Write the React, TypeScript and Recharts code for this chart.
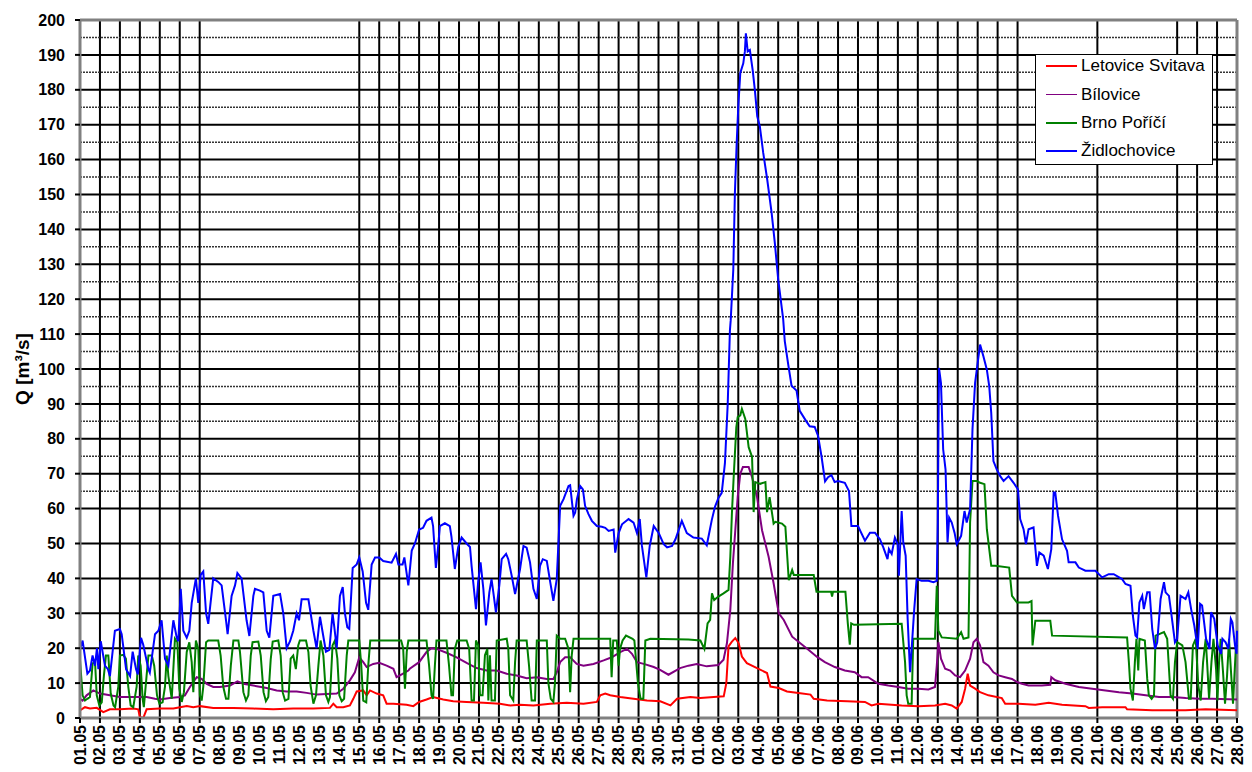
import React from 'react';
import { LineChart, Line, XAxis, YAxis, CartesianGrid, ReferenceLine, Legend } from 'recharts';

const FONT = '"Liberation Sans", Arial, sans-serif';

// date labels, one per day (x value = day index from 01.05)
const dayLabels = [
	'01.05', '02.05', '03.05', '04.05', '05.05', '06.05', '07.05', '08.05', '09.05', '10.05',
	'11.05', '12.05', '13.05', '14.05', '15.05', '16.05', '17.05', '18.05', '19.05', '20.05',
	'21.05', '22.05', '23.05', '24.05', '25.05', '26.05', '27.05', '28.05', '29.05', '30.05',
	'31.05', '01.06', '02.06', '03.06', '04.06', '05.06', '06.06', '07.06', '08.06', '09.06',
	'10.06', '11.06', '12.06', '13.06', '14.06', '15.06', '16.06', '17.06', '18.06', '19.06',
	'20.06', '21.06', '22.06', '23.06', '24.06', '25.06', '26.06', '27.06', '28.06',
];
const dayTicks = dayLabels.map((_l, i) => i);
const X_MAX = 58;
const Y_MAX = 200;
// days that carry a vertical grid line in the original
const gridDays = [
	0, 1, 2, 3, 4, 5, 6, 14, 15, 16, 17, 18, 19, 20, 21, 22, 23, 24, 25, 26, 27, 28, 29, 30,
	31, 32, 33, 34, 35, 36, 37, 38, 39, 40, 41, 42, 43, 44, 45, 46, 47, 51, 55, 56, 57,
];
const yTicks = [0, 10, 20, 30, 40, 50, 60, 70, 80, 90, 100, 110, 120, 130, 140, 150, 160, 170, 180, 190, 200];
const yMinor = [65, 75, 85, 95, 105, 115, 125, 135, 145, 155, 165, 175, 185, 195];

// Letovice Svitava
const letoviceT = [0, 0.25, 0.5, 0.84, 1.17, 1.5, 2, 2.67, 2.92, 3, 3.17, 3.34, 4, 4.68, 5.01, 5.35, 5.68, 6.02, 6.68, 7.69, 8.69, 9.69, 10.69, 11.7, 12.53, 12.7, 12.87, 13.2, 13.53, 13.7, 13.87, 14.2, 14.37, 14.54, 14.87, 15.2, 15.37, 15.71, 16.37, 16.71, 17, 17.37, 17.7, 18.21, 18.71, 19.38, 20.22, 21.05, 21.56, 22.06, 22.73, 23.57, 24.4, 25.24, 25.91, 26.08, 26.33, 26.58, 27.08, 27.75, 28.42, 29.09, 29.6, 29.93, 30.6, 31.1, 31.77, 32.27, 32.4, 32.51, 32.68, 32.85, 33.02, 33.18, 33.43, 33.94, 34.44, 34.61, 35.03, 35.44, 36.11, 36.62, 36.78, 37.45, 38.46, 39.35, 39.68, 40.02, 41.19, 42.03, 42.86, 43.37, 43.7, 43.95, 44.2, 44.37, 44.5, 44.62, 44.87, 45.12, 45.54, 46.21, 46.38, 47.05, 47.89, 48.56, 49.23, 50.4, 50.57, 51.24, 52.41, 52.49, 53.75, 55.42, 56.43, 58];
const letoviceQ = [2.2, 3.1, 2.7, 2.9, 1.7, 2.5, 2.5, 2.7, 2.5, 0.3, 0, 2.5, 2.7, 2.7, 3.1, 3.4, 3.1, 3.4, 2.9, 2.9, 2.7, 2.5, 2.7, 2.7, 2.9, 4.1, 3.1, 3.1, 3.6, 5.5, 7.6, 7.9, 6.5, 7.9, 7, 6.5, 4.1, 4.1, 3.8, 3.4, 4.6, 5.3, 6, 5.3, 4.8, 4.6, 4.4, 4.1, 3.6, 3.8, 3.6, 4.1, 4.4, 4.1, 4.6, 6.5, 7, 6.5, 6, 5.5, 5, 4.8, 3.6, 5.5, 6, 5.7, 6, 6.2, 10, 20.5, 21.9, 22.9, 21.4, 17.6, 15.7, 14.3, 12.9, 9, 8.6, 7.6, 7.1, 6.7, 5.5, 5, 4.8, 4.6, 3.6, 4.1, 3.6, 3.4, 3.6, 4.1, 3.6, 2.7, 4.6, 8.4, 12.7, 9.3, 8.4, 7.4, 6.5, 5.7, 4.1, 4.1, 3.8, 4.4, 3.8, 3.4, 2.9, 3.1, 3.1, 2.5, 2.2, 2.2, 2.5, 2.2];

// Bílovice
const bilowiceT = [0, 0.13, 0.33, 0.67, 1, 1.5, 2, 2.67, 3.34, 3.76, 4, 4.51, 5.01, 5.26, 5.51, 5.85, 6.1, 6.35, 6.68, 7.02, 7.52, 7.89, 8.19, 8.86, 9.36, 9.86, 10.36, 10.86, 11.36, 11.86, 12.36, 12.87, 13.2, 13.53, 13.78, 14, 14.2, 14.37, 14.7, 15, 15.37, 15.71, 15.87, 16.04, 16.46, 16.53, 17, 17.37, 17.62, 17.87, 18.37, 18.88, 19.38, 19.88, 20.38, 20.89, 21.39, 21.89, 22.39, 22.9, 23.4, 23.73, 23.9, 24.07, 24.32, 24.57, 24.9, 25.24, 25.74, 26.25, 26.66, 27.08, 27.42, 27.67, 27.92, 28.26, 28.76, 29.08, 29.5, 30.08, 30.5, 30.92, 31.42, 32, 32.26, 32.43, 32.6, 32.73, 32.85, 32.97, 33.1, 33.23, 33.52, 33.69, 33.94, 34.19, 34.52, 34.77, 35.03, 35.28, 35.7, 36.11, 36.53, 36.95, 37.34, 37.84, 38.34, 38.84, 39.18, 39.51, 40.02, 40.52, 41.02, 41.52, 42.03, 42.53, 42.86, 42.95, 43.03, 43.16, 43.37, 43.62, 43.87, 44.12, 44.37, 44.62, 44.79, 44.96, 45.12, 45.29, 45.54, 45.79, 46.05, 46.38, 46.72, 46.97, 47.22, 47.55, 48.22, 48.64, 48.69, 48.89, 49.4, 50.07, 50.74, 51.41, 52.08, 52.75, 53.42, 54.09, 54.76, 55.43, 56.1, 56.77, 58];
const bilowiceQ = [5.5, 5, 6.5, 7.9, 7, 6.5, 6, 6, 6, 5.5, 5.3, 5.7, 6, 6.5, 8.9, 11.7, 11.2, 9.8, 8.9, 8.9, 9.3, 10.5, 9.8, 9.1, 8.6, 7.9, 7.6, 7.6, 7.2, 6.7, 6.9, 7, 8.4, 10.8, 13.1, 17.4, 16, 14.6, 15.5, 15.8, 15, 14.1, 11.7, 12.2, 13.6, 14.1, 16, 18.9, 20, 19.8, 18.7, 17.4, 15.8, 14.3, 13.6, 13.6, 12.7, 12.2, 11.4, 11.7, 11.2, 11.2, 13.1, 16, 17.4, 17.4, 15.5, 15, 15.5, 16.5, 17.4, 18.9, 19.8, 18.4, 16, 15.5, 14.6, 13.8, 12.4, 14.3, 15, 15.5, 14.8, 15.2, 16.7, 21.4, 31, 44.3, 53.8, 63.3, 70, 71.9, 71.9, 69, 63.3, 53.8, 46.2, 38.6, 30, 28.1, 23.3, 21.4, 19.5, 17.5, 16, 14.6, 13.6, 13.1, 11.7, 11.7, 9.8, 9.3, 8.9, 8.4, 8.4, 8.2, 8.9, 15, 21.7, 17, 14.1, 13.6, 12.2, 11.7, 13.6, 17, 21.7, 22.7, 20.8, 16, 15, 13.1, 12.2, 11.7, 11.2, 10.3, 9.8, 9.3, 9.3, 9.5, 11.7, 10.8, 9.8, 8.9, 8.4, 7.9, 7.4, 7, 6.5, 6, 6, 5.7, 5.5, 5.5, 5.3];

// Brno Poříčí
const brnoT = [0, 0.13, 0.25, 0.37, 0.5, 0.63, 0.75, 0.84, 0.97, 1.09, 1.2, 1.3, 1.42, 1.54, 1.68, 1.76, 1.92, 2, 2.17, 2.3, 2.42, 2.54, 2.67, 2.84, 2.92, 3.04, 3.14, 3.2, 3.34, 3.43, 3.6, 3.72, 3.86, 3.98, 4.14, 4.26, 4.35, 4.43, 4.6, 4.76, 4.88, 4.98, 5.1, 5.21, 5.35, 5.48, 5.6, 5.68, 5.81, 5.93, 6.01, 6.1, 6.18, 6.32, 6.43, 6.68, 6.93, 7.05, 7.18, 7.32, 7.44, 7.56, 7.69, 7.94, 8.02, 8.19, 8.32, 8.44, 8.56, 8.65, 8.94, 9.06, 9.2, 9.32, 9.44, 9.56, 9.66, 9.94, 10.06, 10.16, 10.28, 10.45, 10.56, 10.69, 10.82, 10.94, 11.02, 11.33, 11.45, 11.56, 11.7, 11.83, 11.95, 12.06, 12.2, 12.33, 12.45, 12.53, 12.66, 12.78, 12.9, 13, 13.12, 13.24, 13.37, 13.45, 14, 14.1, 14.2, 14.35, 14.45, 14.55, 16.1, 16.2, 16.29, 16.38, 16.46, 17.37, 17.5, 17.62, 17.7, 17.79, 17.87, 18.37, 18.5, 18.62, 18.7, 18.79, 18.91, 19.38, 19.51, 19.63, 19.75, 19.85, 19.96, 20.05, 20.18, 20.3, 20.42, 20.47, 20.55, 20.63, 20.8, 20.89, 21.39, 21.47, 21.56, 21.72, 21.81, 21.89, 22.39, 22.51, 22.64, 22.81, 22.9, 23.4, 23.48, 23.6, 23.73, 23.81, 23.9, 24.07, 24.32, 24.49, 24.57, 24.65, 24.74, 26.58, 26.65, 26.73, 26.91, 27, 27.07, 27.2, 27.37, 27.7, 27.79, 27.97, 28.1, 28.24, 28.34, 28.59, 30.5, 31.1, 31.3, 31.46, 31.59, 31.68, 31.79, 32, 32.26, 32.51, 32.6, 32.68, 32.76, 32.9, 32.97, 33.1, 33.18, 33.35, 33.52, 33.69, 33.77, 33.85, 34.1, 34.36, 34.44, 34.57, 34.77, 34.86, 35.19, 35.36, 35.53, 35.7, 35.78, 36.78, 36.92, 37.12, 37.65, 37.7, 37.75, 38.37, 38.49, 38.59, 38.66, 38.8, 41.19, 41.36, 41.44, 41.52, 41.69, 41.77, 42.86, 42.95, 43.03, 43.2, 43.95, 44.17, 44.29, 44.54, 44.62, 44.74, 44.96, 45.12, 45.34, 45.46, 45.58, 45.68, 45.88, 46.58, 46.72, 46.97, 47.55, 47.7, 47.75, 47.89, 48.64, 48.73, 52.49, 52.58, 52.66, 52.78, 52.88, 52.96, 53.05, 53.11, 53.38, 53.5, 53.58, 53.72, 53.84, 53.92, 54.34, 54.5, 54.59, 54.67, 54.79, 54.89, 55, 55.26, 55.42, 55.59, 55.68, 55.79, 55.93, 56.06, 56.18, 56.3, 56.43, 56.51, 56.6, 56.72, 56.82, 56.95, 57.02, 57.1, 57.18, 57.3, 57.4, 57.5, 57.6, 57.69, 57.8, 57.94, 58];
const brnoQ = [16.5, 6.5, 5, 5.5, 6, 15.5, 16.5, 6.5, 3.6, 4.5, 12.2, 17.9, 17.9, 7, 3.6, 3.1, 9, 17.9, 18.1, 17, 9, 3.6, 3.1, 9, 17.9, 15, 5.5, 3.1, 12.2, 17.9, 17.9, 15, 6.5, 4.1, 4.5, 9, 17.9, 12, 5.5, 22.7, 21.7, 8.4, 4.6, 7.4, 18.9, 21.7, 16, 7.4, 22.2, 19.8, 6.5, 5, 9, 21.7, 22.2, 22.2, 22.2, 17.9, 9, 5.5, 5.5, 15, 22.2, 22.2, 18.9, 7.4, 5, 6.5, 17.9, 21.7, 21.9, 17.9, 7.4, 4.8, 6, 16.8, 21.9, 22.2, 17.9, 7.4, 5, 5.5, 17, 17.9, 14, 20.8, 22.2, 22.2, 18.9, 9.3, 4.1, 6.5, 15, 22.2, 17.9, 6.5, 4.6, 6, 20.8, 22.2, 17, 6.5, 4.8, 5.5, 17.9, 22.2, 22.2, 15, 5, 4.5, 15, 22.2, 22.2, 20, 8.4, 19, 22.2, 22.2, 15, 6.5, 5.5, 15, 22.2, 22.2, 15, 6.5, 6.5, 19.8, 22.2, 22.2, 19.8, 5, 5, 22.2, 20.8, 6.5, 6.5, 18, 19.8, 5, 18, 5, 5, 22.2, 22.7, 19.8, 6.5, 5, 16, 22.2, 22.2, 15, 5, 5, 22.2, 22.2, 10, 5.5, 4.6, 10, 23.6, 22.7, 22.7, 19.8, 7.4, 17.9, 22.7, 22.7, 11.7, 22.2, 22.2, 15, 19.8, 22.2, 23.6, 22.7, 22.2, 10, 5.5, 5.5, 22.2, 22.7, 22.5, 22.2, 19.8, 27.1, 28.1, 35.7, 33.8, 34.8, 35.7, 36.7, 46.2, 58.6, 68.1, 83.3, 86.2, 86.7, 88.6, 85.7, 77.6, 74.8, 59, 67.6, 67.1, 67.6, 59, 63.3, 55.7, 56.2, 55.7, 54.8, 39.5, 42.4, 41, 41, 36.2, 36.2, 36.2, 34.8, 36.2, 36.2, 27.1, 21, 27.1, 26.7, 27, 16, 6.5, 4.1, 4.1, 22.7, 22.7, 37.9, 25, 23.1, 22.7, 24.6, 22.7, 23.1, 56, 67.9, 67.9, 67.4, 67, 54.1, 48.4, 43.6, 43.6, 43.1, 35, 33.1, 33.1, 33.5, 20.8, 27.9, 27.9, 23.6, 23.1, 16, 8.4, 5, 16, 22.7, 13.6, 22.7, 22.2, 11.2, 6.5, 5.5, 6.5, 23.6, 24.6, 22.7, 14.1, 6.5, 5.5, 16, 21.7, 20.8, 16, 5.5, 5.5, 20.8, 22.7, 9.3, 5, 16, 22.7, 15, 5.5, 16, 22.7, 14.1, 5, 16, 22.7, 13.1, 4.1, 12, 22.7, 14.1, 4.1, 19.8, 21];

// Židlochovice
const zidlochT = [0, 0.13, 0.37, 0.5, 0.63, 0.75, 0.85, 0.92, 1.04, 1.25, 1.4, 1.5, 1.75, 2, 2.09, 2.31, 2.51, 2.64, 2.81, 2.9, 3.06, 3.17, 3.43, 3.5, 3.76, 3.93, 4.09, 4.26, 4.43, 4.68, 4.85, 4.93, 5.05, 5.18, 5.35, 5.48, 5.6, 5.81, 5.93, 6.05, 6.18, 6.32, 6.43, 6.68, 6.93, 7.1, 7.32, 7.4, 7.6, 7.77, 7.89, 8.1, 8.35, 8.49, 8.69, 8.77, 9.02, 9.19, 9.36, 9.49, 9.69, 10.03, 10.19, 10.36, 10.53, 10.69, 10.86, 10.98, 11.11, 11.45, 11.7, 11.86, 12.03, 12.15, 12.33, 12.5, 12.66, 12.75, 12.87, 13.03, 13.17, 13.28, 13.4, 13.5, 13.67, 13.87, 14, 14.17, 14.34, 14.45, 14.62, 14.79, 15, 15.2, 15.62, 15.84, 15.96, 16.17, 16.26, 16.46, 16.63, 16.79, 17, 17.2, 17.37, 17.62, 17.7, 17.84, 17.95, 18.04, 18.29, 18.54, 18.62, 18.79, 18.96, 19.13, 19.38, 19.55, 19.63, 19.85, 19.96, 20.08, 20.22, 20.35, 20.52, 20.63, 20.72, 20.85, 21.02, 21.14, 21.36, 21.47, 21.64, 21.81, 22.06, 22.23, 22.39, 22.56, 22.73, 22.9, 23.06, 23.2, 23.4, 23.57, 23.73, 23.9, 24.07, 24.24, 24.49, 24.57, 24.74, 24.82, 24.91, 25.07, 25.21, 25.32, 25.49, 25.66, 25.91, 26.16, 26.33, 26.5, 26.75, 26.83, 27, 27.17, 27.5, 27.75, 27.92, 28.06, 28.17, 28.39, 28.56, 28.76, 29.01, 29.26, 29.43, 29.68, 29.85, 30.17, 30.42, 30.75, 31.17, 31.42, 31.67, 31.83, 32, 32.17, 32.33, 32.47, 32.58, 32.62, 32.75, 32.83, 32.92, 33, 33.1, 33.25, 33.33, 33.38, 33.47, 33.58, 33.72, 33.83, 33.95, 34.08, 34.25, 34.45, 34.67, 34.83, 35, 35.25, 35.33, 35.5, 35.67, 35.92, 36.08, 36.41, 36.58, 36.83, 37, 37.17, 37.35, 37.5, 37.67, 37.83, 38, 38.34, 38.55, 38.67, 39, 39.35, 39.6, 39.85, 40.1, 40.27, 40.48, 40.55, 40.69, 40.85, 40.99, 41.05, 41.19, 41.27, 41.39, 41.49, 41.61, 41.69, 41.82, 41.94, 42.19, 42.53, 42.78, 42.95, 43, 43.06, 43.16, 43.27, 43.39, 43.49, 43.57, 43.7, 43.84, 43.95, 44.17, 44.34, 44.45, 44.62, 44.74, 44.87, 45.01, 45.12, 45.29, 45.46, 45.58, 45.68, 45.79, 45.96, 46.13, 46.3, 46.55, 46.8, 47.02, 47.13, 47.3, 47.42, 47.55, 47.8, 47.97, 48.09, 48.31, 48.52, 48.69, 48.81, 48.89, 49.03, 49.23, 49.48, 49.56, 49.9, 50.07, 50.4, 50.9, 51.24, 51.57, 51.82, 52.24, 52.41, 52.66, 52.78, 52.91, 52.99, 53.11, 53.25, 53.33, 53.5, 53.62, 53.75, 53.89, 54, 54.17, 54.34, 54.42, 54.59, 54.72, 54.89, 55, 55.17, 55.42, 55.56, 55.7, 55.86, 56.03, 56.15, 56.25, 56.45, 56.62, 56.7, 56.86, 57.03, 57.2, 57.27, 57.43, 57.57, 57.69, 57.77, 57.9, 57.98, 58];
const zidlochQ = [19.8, 22.2, 12.7, 13.6, 17.9, 15, 20, 14, 22, 15, 14, 12, 25, 25.5, 24, 14, 12, 19, 14, 12.5, 23, 21, 14, 13, 24, 25, 28, 17, 15, 28, 23, 22, 37, 25, 23, 25, 33, 40, 33, 41, 42, 30, 27, 40, 39, 38, 28, 24, 35, 38, 41.5, 40, 28, 23.5, 35, 37, 36.5, 36, 25, 23, 35, 35.5, 30, 20, 22, 25, 30, 28, 34, 34, 25, 20, 29, 25, 19, 19.5, 30, 26, 20, 35, 37.5, 30, 26, 25.5, 43, 44, 46, 42, 33, 31, 44, 46, 46, 45, 44.5, 47, 44, 44, 46, 38, 48, 50, 54, 54.5, 56.5, 57.4, 55, 43, 49, 55, 55.8, 55, 52, 42.7, 49, 51.7, 50, 49, 43.6, 31.2, 39, 44.6, 37, 26.5, 36, 39.8, 36, 30.3, 38, 45.5, 47, 45.5, 40.8, 35.5, 42.7, 49.3, 48.8, 44.6, 37, 34.1, 43.6, 45.5, 45, 39, 33.6, 39.8, 60.8, 62.7, 66.5, 66.7, 57.9, 58.8, 62.7, 66.5, 65.5, 60.8, 58.4, 56.5, 55, 54.8, 54.5, 53.6, 54, 47.4, 53, 55.5, 57, 56, 53, 57, 49.3, 40.3, 49.3, 55, 53, 49.8, 48.9, 49.3, 51.2, 56.5, 53, 51.7, 51.4, 49.5, 56.7, 60.5, 63, 64.5, 73, 90, 111, 114, 128.6, 150.5, 164.8, 175.2, 184.8, 187.6, 191, 196.2, 191, 191.4, 185.7, 180, 172.4, 169.5, 161.9, 154.3, 144.8, 136.2, 125.7, 114.3, 108, 101.4, 95.2, 93.8, 88, 85, 83.6, 83.4, 80.8, 75, 67.8, 69, 69.6, 67.6, 67.9, 67.4, 65, 55, 55, 50.8, 53.1, 53.1, 51.2, 48.9, 45.5, 48.4, 47, 51.7, 49.8, 40.8, 59.3, 50.3, 46.5, 28.4, 13.1, 19.8, 31.2, 39.8, 39.3, 39.3, 38.9, 39.3, 56, 100.3, 96, 77, 71.2, 50.3, 57.4, 56, 53.1, 49.8, 52.2, 59.3, 56, 59.8, 82.7, 96, 102.2, 107, 103.6, 99.8, 95, 87.4, 73.6, 71.2, 69.3, 67.9, 69.3, 67.4, 65.5, 57, 54.1, 49.8, 54.1, 54.6, 43.6, 47.4, 46.5, 42.7, 48.4, 64.6, 64.6, 57.9, 51.2, 47.9, 44.6, 44.6, 43.1, 42.2, 42.2, 40.3, 41.2, 41.2, 39.8, 38.4, 37.9, 29.3, 23.6, 23.1, 33.1, 35, 31.2, 36, 36, 25.5, 19.8, 21.7, 34.1, 38.9, 36, 35, 29.3, 21.7, 22.7, 35, 34.1, 36, 31.2, 26.5, 19.8, 32.7, 32.2, 22.7, 19.8, 30.3, 28.4, 20.8, 18.4, 22.7, 21.7, 19.8, 28.4, 27.4, 20.8, 18.4, 25];

const toPoints = (t: number[], q: number[]) => t.map((v, i) => ({ t: v, q: q[i] }));

const series = [
	{ name: 'Letovice Svitava', color: '#FF0000', width: 2, data: toPoints(letoviceT, letoviceQ) },
	{ name: 'Bílovice', color: '#800080', width: 2, data: toPoints(bilowiceT, bilowiceQ) },
	{ name: 'Brno Poříčí', color: '#008000', width: 2, data: toPoints(brnoT, brnoQ) },
	{ name: 'Židlochovice', color: '#0000FF', width: 2, data: toPoints(zidlochT, zidlochQ) },
];

const DayTick = (props: any) => {
	const { x, y, payload } = props;
	const d = payload.value;
	return (
		<g>
			{gridDays.includes(d) || d === X_MAX ? (
				<line x1={x} x2={x} y1={y - 7} y2={y - 2} stroke="#000" strokeWidth={2} />
			) : null}
			<text
				x={x}
				y={y}
				transform={`rotate(-90 ${x} ${y})`}
				textAnchor="end"
				dominantBaseline="central"
				fill="#000"
				fontSize={16}
				fontWeight="bold"
				fontFamily={FONT}
			>
				{dayLabels[d]}
			</text>
		</g>
	);
};

const YLabel = (props: any) => {
	const vb = props.viewBox || { x: 0, y: 20, width: 80, height: 698 };
	const cx = vb.x + 22;
	const cy = vb.y + vb.height / 2;
	return (
		<text
			x={cx}
			y={cy}
			transform={`rotate(-90 ${cx} ${cy})`}
			textAnchor="middle"
			dominantBaseline="central"
			fill="#000"
			fontSize={19}
			fontWeight="bold"
			fontFamily={FONT}
		>
			Q [m³/s]
		</text>
	);
};

const LegendBox = () => (
	<div
		style={{
			position: 'relative',
			width: 178,
			height: 111,
			boxSizing: 'border-box',
			border: '1px solid #000',
			background: '#fff',
			fontFamily: FONT,
			fontSize: 17,
			color: '#000',
		}}
	>
		{series.map((s, i) => (
			<div
				key={s.name}
				style={{ position: 'absolute', left: 0, top: [0, 29, 57, 85][i], height: 22, width: 176 }}
			>
				<div
					style={{
						position: 'absolute',
						left: 10,
						top: 10,
						width: 31,
						height: 0,
						borderTop: `${s.name === 'Bílovice' ? 1 : 2}px solid ${s.color}`,
					}}
				/>
				<span style={{ position: 'absolute', left: 45, top: 1, lineHeight: '20px', whiteSpace: 'nowrap' }}>
					{s.name}
				</span>
			</div>
		))}
	</div>
);

export default function App() {
	return (
		<div style={{ position: 'absolute', left: 0, top: 0, background: '#fff' }}>
			<LineChart width={1252} height={772} margin={{ top: 20, right: 15, bottom: 0, left: 0 }}>
				<CartesianGrid stroke="#000" strokeWidth={2} horizontal vertical={false} />
				<CartesianGrid stroke="#000" strokeWidth={2} horizontal={false} vertical verticalValues={gridDays} />
				<CartesianGrid
					stroke="#333"
					strokeWidth={1.5}
					strokeDasharray="2 1"
					horizontal
					vertical={false}
					horizontalValues={yMinor}
				/>
				<XAxis
					type="number"
					dataKey="t"
					domain={[0, X_MAX]}
					ticks={dayTicks}
					interval={0}
					height={54}
					tickLine={false}
					tickSize={5}
					tickMargin={2}
					tick={<DayTick />}
					axisLine={{ stroke: '#808080', strokeWidth: 3 }}
				/>
				<YAxis
					type="number"
					domain={[0, Y_MAX]}
					ticks={yTicks}
					interval={0}
					width={80}
					tickSize={5}
					tickMargin={10}
					tickLine={{ stroke: '#000', strokeWidth: 2 }}
					axisLine={{ stroke: '#808080', strokeWidth: 3 }}
					tick={{ fill: '#000', fontSize: 16, fontWeight: 'bold', fontFamily: FONT }}
					label={<YLabel />}
				/>
				<ReferenceLine y={Y_MAX} stroke="#808080" strokeWidth={3} />
				<ReferenceLine x={X_MAX} stroke="#808080" strokeWidth={3} />
				{series.map((s) => (
					<Line
						key={s.name}
						data={s.data}
						dataKey="q"
						name={s.name}
						type="linear"
						stroke={s.color}
						strokeWidth={s.width}
						dot={false}
						activeDot={false}
						isAnimationActive={false}
					/>
				))}
				<Legend
					layout="vertical"
					align="center"
					verticalAlign="middle"
					wrapperStyle={{ left: 1035, top: 54, width: 178, height: 111 }}
					content={() => <LegendBox />}
				/>
			</LineChart>
		</div>
	);
}
